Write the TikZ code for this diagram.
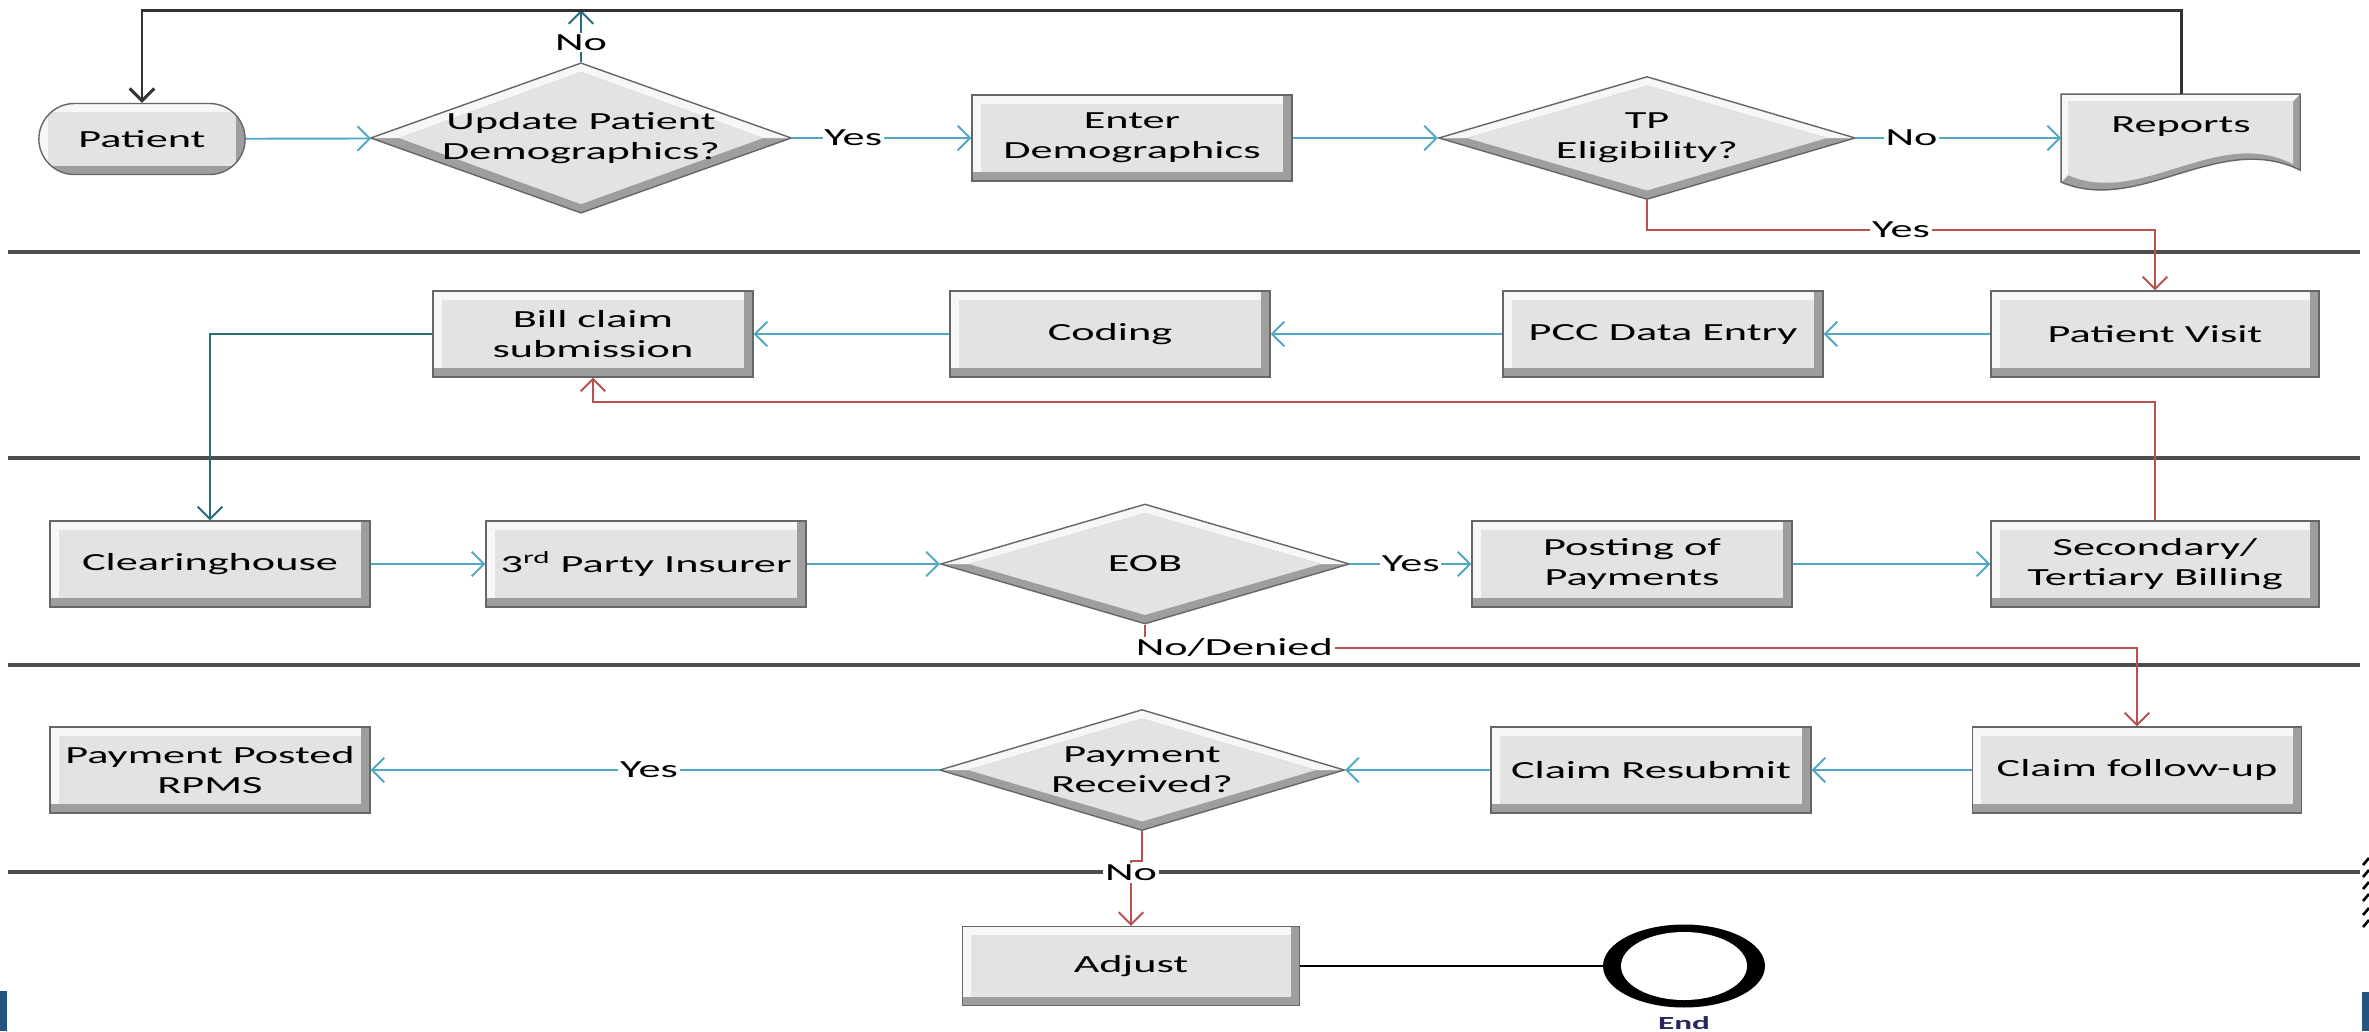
\documentclass[tikz,border=0pt]{standalone}
\usepackage{fontspec}
\setmainfont{Carlito}[FakeStretch=1.8]
\usepackage{tikz}
\usetikzlibrary{arrows.meta}
\usetikzlibrary{shapes.geometric}
\usetikzlibrary{shapes.misc}
\usetikzlibrary{calc}
\usetikzlibrary{positioning}
\definecolor{flowblue}{RGB}{80,168,196}
\definecolor{flowdark}{RGB}{38,108,128}
\definecolor{flowred}{RGB}{185,80,78}
\definecolor{slideblue}{RGB}{38,84,128}
\definecolor{endblue}{RGB}{40,40,95}
\tikzstyle{bx} = [rectangle, draw=black!60, line width=0.8pt, fill=black!38, minimum width=6.4cm, minimum height=1.72cm, align=center, path picture={
	\fill[black!3] (path picture bounding box.north west) rectangle ([shift={(-5pt,5pt)}]path picture bounding box.south east);
	\fill[black!11] ([shift={(5pt,-5pt)}]path picture bounding box.north west) rectangle ([shift={(-5pt,5pt)}]path picture bounding box.south east);}]
\tikzstyle{term} = [bx, rounded rectangle, minimum width=4.36cm, minimum height=1.42cm]
\tikzstyle{dm} = [diamond, draw=black!60, line width=0.8pt, fill=black!38, inner sep=0pt, align=center, aspect=3.4, path picture={
	\fill[black!3] (path picture bounding box.west) -- (path picture bounding box.north) -- (path picture bounding box.east) -- ($(path picture bounding box.east)+(-16pt,0pt)$) -- ($(path picture bounding box.north)+(0pt,-5pt)$) -- ($(path picture bounding box.west)+(16pt,0pt)$) -- cycle;
	\fill[black!11] ($(path picture bounding box.north)+(0pt,-5pt)$) -- ($(path picture bounding box.east)+(-16pt,0pt)$) -- ($(path picture bounding box.south)+(0pt,5pt)$) -- ($(path picture bounding box.west)+(16pt,0pt)$) -- cycle;}]
\tikzstyle{flow} = [draw=flowblue, line width=1.1pt, -{Straight Barb[length=7pt,width=14pt]}]
\tikzstyle{flowdk} = [flow, draw=flowdark]
\tikzstyle{back} = [flow, draw=flowred]
\tikzstyle{returnline} = [flow, draw=black!80, line width=1.7pt]
\tikzstyle{lbl} = [fill=white, inner sep=1pt]
\tikzstyle{laneline} = [draw=black!70, line width=2pt]

\begin{document}
\begin{tikzpicture}[x=0.02cm, y=-0.02cm, every node/.style={font=\fontsize{14}{17}\selectfont}]
	\useasboundingbox (0,0) rectangle (2369,1031);
	% lanes
	\foreach \y in {252,458,665,872}
		\draw[laneline] (8,\y) -- (2360,\y);

	% row 1
	\node[term] (pat) at (142,139) {Patient};
	\node[dm, minimum width=8.32cm, minimum height=2.9cm, aspect=2.8] (upd) at (581,138) {Update Patient\\Demographics?};
	\node[bx] (ent) at (1132,138) {Enter\\Demographics};
	\node[dm, minimum width=8.34cm, minimum height=2.46cm] (tp) at (1647,138) {TP\\Eligibility?};
	\node[minimum width=4.78cm, minimum height=1.74cm, inner sep=0pt] (rep) at (2181,138) {};
	\begin{scope}[shift={(rep.north west)}]
		\fill[black!38] (0,0) -- (239,0) -- (239,76) .. controls (158,36) and (78,121) .. (0,88) -- cycle;
		\fill[black!3] (0,0) -- (239,0) -- (232,7) -- (7,7) -- (7,81) -- (0,88) -- cycle;
		\fill[black!11] (7,7) -- (232,7) -- (232,70) .. controls (156,31) and (80,113) .. (7,81) -- cycle;
		\draw[black!60, line width=0.8pt] (0,0) -- (239,0) -- (239,76) .. controls (158,36) and (78,121) .. (0,88) -- cycle;
	\end{scope}
	\node (reptxt) at ($(rep)+(0,-11)$) {Reports};

	% row 2
	\node[bx] (bill) at (593,334) {Bill claim\\submission};
	\node[bx] (cod) at (1110,334) {Coding};
	\node[bx] (pcc) at (1663,334) {PCC Data Entry};
	\node[bx, minimum width=6.56cm] (pv) at (2155,334) {Patient Visit};

	% row 3
	\node[bx] (clr) at (210,564) {Clearinghouse};
	\node[bx] (ins) at (646,564) {3\textsuperscript{rd} Party Insurer};
	\node[dm, minimum width=8.18cm, minimum height=2.4cm] (eob) at (1145,564) {EOB};
	\node[bx] (pst) at (1632,564) {Posting of\\Payments};
	\node[bx, minimum width=6.56cm] (sec) at (2155,564) {Secondary/\\Tertiary Billing};

	% row 4
	\node[bx] (ppr) at (210,770) {Payment Posted\\RPMS};
	\node[dm, minimum width=8.1cm, minimum height=2.42cm] (prc) at (1142,770) {Payment\\Received?};
	\node[bx] (crs) at (1651,770) {Claim Resubmit};
	\node[bx, minimum width=6.58cm] (cfu) at (2137,770) {Claim follow-up};

	% row 5
	\node[bx, minimum width=6.74cm, minimum height=1.58cm] (adj) at (1131,966) {Adjust};
	\node[ellipse, fill=black, minimum width=3.24cm, minimum height=1.66cm, inner sep=0pt] (fin) at (1684,966) {};
	\fill[white] (fin.center) ellipse [x radius=1.26cm, y radius=0.68cm];
	\node[below=0.04cm of fin, font=\fontsize{10.5}{12}\selectfont\bfseries, text=endblue] (fintxt) {End};

	% connectors
	\foreach \from/\to in {pat/upd,ent/tp,pv/pcc,pcc/cod,cod/bill,clr/ins,ins/eob,pst/sec,cfu/crs,crs/prc}
		\draw[flow] (\from) -- (\to);
	\foreach \from/\to/\txt/\where in {upd/ent/Yes/0.34,tp/rep/No/0.27,eob/pst/Yes/0.5,prc/ppr/Yes/0.51}
		\draw[flow] (\from) -- node[lbl,pos=\where]{\txt} (\to);
	\draw[flowdk] (upd.north) -- node[lbl,pos=0.38]{No} ++(0,-52);
	\draw[flowdk] (bill.west) -| (clr.north);
	\draw[returnline] (rep.north) -- ++(0,-84) -| (pat.north);
	\draw[back] (tp.south) -- ++(0,30) -| node[lbl,pos=0.25]{Yes} (pv.north);
	\draw[back] (sec.north) |- (bill.south |- 0,402) -- (bill.south);
	\draw[back] (eob.south) -- ++(0,23) -| node[lbl,pos=0.045]{No/Denied} (cfu.north);
	\draw[back] (prc.south) -- ++(0,30) -| node[lbl,pos=0.59]{No} (adj.north);
	\draw[black, line width=1.1pt] (adj) -- (fin);

	% slide edges
	\fill[slideblue] (0,991) rectangle (7,1031);
	\fill[slideblue] (2362,992) rectangle (2369,1031);
	\foreach \y in {858,870,882,894,908,920}
		\draw[line width=1.5pt] (2363,\y+7) -- (2369,\y);
\end{tikzpicture}
\end{document}
